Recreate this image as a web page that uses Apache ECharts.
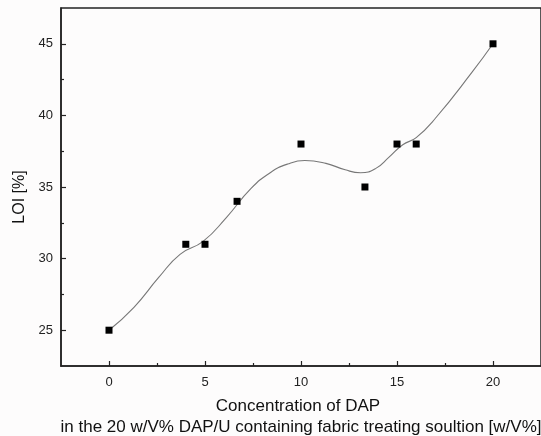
<!DOCTYPE html>
<html>
<head>
<meta charset="utf-8">
<script src="https://cdn.jsdelivr.net/npm/echarts@6/dist/echarts.min.js"></script>
<style>
html,body{margin:0;padding:0;background:#fdfcfc;}
#chart{width:541px;height:436px;}
</style>
</head>
<body>
<div id="chart"></div>
<script>
// Measured data (concentration of DAP, LOI %)
const dapConc = [0, 4, 5, 6.67, 10, 13.33, 15, 16, 20];
const loiValues = [25, 31, 31, 34, 38, 35, 38, 38, 45];

// Fitted curve
const curveX = [0, 1.3, 2.6, 3.7, 4.9, 6.1, 7.4, 8.4, 9.3, 10.2, 11.3, 12.3, 13.1, 13.9, 14.6, 15.3, 16.0, 17.0, 18.9, 20];
const curveY = [25, 26.6, 28.7, 30.3, 31.2, 32.85, 34.9, 36.0, 36.6, 36.85, 36.65, 36.2, 36.0, 36.3, 37.1, 37.95, 38.45, 39.8, 43.0, 45];

// Tick values
const xMajorTicks = [0, 5, 10, 15, 20];
const xMinorTicks = [2.5, 7.5, 12.5, 17.5];
const yMajorTicks = [25, 30, 35, 40, 45];
const yMinorTicks = [27.5, 32.5, 37.5, 42.5];

const xTitle1 = 'Concentration of DAP';
const xTitle2 = 'in the 20 w/V% DAP/U containing fabric treating soultion [w/V%]';
const yTitle = 'LOI [%]';

const chart = echarts.init(document.getElementById('chart'), null, {renderer: 'canvas'});
const font = '"Liberation Sans", Arial, sans-serif';
const axisColor = '#222';
const gridRect = {left: 61, top: 8, right: -2, bottom: 70};

const option = {
  backgroundColor: '#fdfcfc',
  animation: false,
  grid: [
    Object.assign({show: true, borderColor: axisColor, borderWidth: 1.5, backgroundColor: 'transparent'}, gridRect),
    Object.assign({show: false}, gridRect)
  ],
  xAxis: [
    {
      type: 'value', gridIndex: 0, min: -2.5, max: 22.5, position: 'bottom',
      splitLine: {show: false},
      axisLine: {show: true, onZero: false, lineStyle: {color: axisColor, width: 1.5}},
      axisTick: {show: true, inside: true, length: 5, customValues: xMajorTicks, lineStyle: {color: axisColor, width: 1.2}},
      axisLabel: {customValues: xMajorTicks, color: axisColor, fontFamily: font, fontSize: 13, margin: 10}
    },
    {
      type: 'value', gridIndex: 1, min: -2.5, max: 22.5, position: 'bottom',
      splitLine: {show: false},
      axisLine: {show: false, onZero: false},
      axisTick: {show: true, inside: true, length: 3, customValues: xMinorTicks, lineStyle: {color: axisColor, width: 1.2}},
      axisLabel: {show: false}
    }
  ],
  yAxis: [
    {
      type: 'value', gridIndex: 0, min: 22.5, max: 47.5, position: 'left',
      splitLine: {show: false},
      axisLine: {show: true, onZero: false, lineStyle: {color: axisColor, width: 1.5}},
      axisTick: {show: true, inside: true, length: 5, customValues: yMajorTicks, lineStyle: {color: axisColor, width: 1.2}},
      axisLabel: {customValues: yMajorTicks, color: axisColor, fontFamily: font, fontSize: 13, margin: 8}
    },
    {
      type: 'value', gridIndex: 1, min: 22.5, max: 47.5, position: 'left',
      splitLine: {show: false},
      axisLine: {show: false, onZero: false},
      axisTick: {show: true, inside: true, length: 3, customValues: yMinorTicks, lineStyle: {color: axisColor, width: 1.2}},
      axisLabel: {show: false}
    }
  ],
  graphic: [
    {type: 'text', x: 298, y: 406, style: {text: xTitle1, font: '17px ' + font, fill: '#111', textAlign: 'center', textVerticalAlign: 'middle'}},
    {type: 'text', x: 301, y: 427, style: {text: xTitle2, font: '17px ' + font, fill: '#111', textAlign: 'center', textVerticalAlign: 'middle'}},
    {type: 'text', x: 20, y: 197, rotation: Math.PI / 2, style: {text: yTitle, font: '16px ' + font, fill: '#111', textAlign: 'center', textVerticalAlign: 'middle'}}
  ],
  series: [
    {
      type: 'line', xAxisIndex: 0, yAxisIndex: 0,
      data: curveX.map((x, i) => [x, curveY[i]]),
      smooth: 0.5, showSymbol: false, symbol: 'none',
      lineStyle: {color: '#777', width: 1.1},
      z: 2
    },
    {
      type: 'scatter', xAxisIndex: 0, yAxisIndex: 0,
      data: dapConc.map((x, i) => [x, loiValues[i]]),
      symbol: 'rect', symbolSize: 7,
      itemStyle: {color: '#000', opacity: 1},
      z: 3
    }
  ]
};
chart.setOption(option);
</script>
</body>
</html>
